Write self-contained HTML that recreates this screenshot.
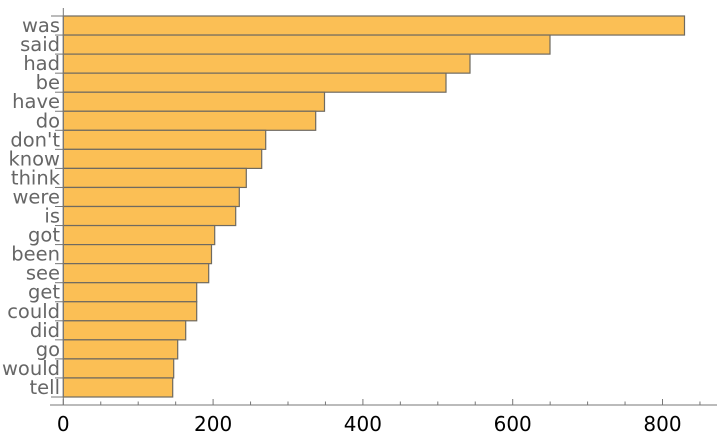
<!DOCTYPE html>
<html><head><meta charset="utf-8"><style>
html,body{margin:0;padding:0;background:#fff;}
svg{display:block;}
.lab{font-family:"DejaVu Sans","Liberation Sans",sans-serif;font-size:19.5px;fill:#666;}
.tk{font-family:"DejaVu Sans","Liberation Sans",sans-serif;font-size:20px;fill:#000;}
</style></head><body>
<svg width="720" height="436" xmlns="http://www.w3.org/2000/svg">
<g id="bars"></g>
<line x1="63.3" y1="8" x2="63.3" y2="405" stroke="#777" stroke-width="1"/>
<line x1="50" y1="405" x2="717" y2="405" stroke="#777" stroke-width="1"/>
<g id="ticks"></g>
</svg>
<script>
var words=["was","said","had","be","have","do","don't","know","think","were","is","got","been","see","get","could","did","go","would","tell"];
var ends=[684.5,550,470,446,324.5,315.7,265.7,261.7,246.3,239.3,235.7,214.7,211.5,208.7,196.7,196.7,185.7,177.7,173.7,172.7];
var ns="http://www.w3.org/2000/svg";
var g=document.getElementById("bars");
var top0=16,h=19.05,x0=63.3;
function el(n,a,p){var e=document.createElementNS(ns,n);for(var k in a)e.setAttribute(k,a[k]);(p||g).appendChild(e);return e;}
for(var i=0;i<20;i++){
 var y=top0+i*h;
 el("rect",{x:x0,y:y,width:ends[i]-x0,height:h,fill:"#FBBF55",stroke:"#6f6a60","stroke-width":1.2});
 var t=el("text",{x:60,y:y+16,"text-anchor":"end","class":"lab"});t.textContent=words[i];
 el("line",{x1:(i==0?51:55),y1:y,x2:x0,y2:y,stroke:"#777","stroke-width":1});
}
el("line",{x1:51,y1:top0+20*h,x2:x0,y2:top0+20*h,stroke:"#777","stroke-width":1});
var tg=document.getElementById("ticks");
for(var v=0;v<=850;v+=50){
 var x=x0+v*0.749;
 var major=(v%200==0);
 el("line",{x1:x,y1:405,x2:x,y2:major?399:401.5,stroke:"#777","stroke-width":1},tg);
 if(major){var t=el("text",{x:x,y:431,"text-anchor":"middle","class":"tk"},tg);t.textContent=v;}
}
</script>
</body></html>
